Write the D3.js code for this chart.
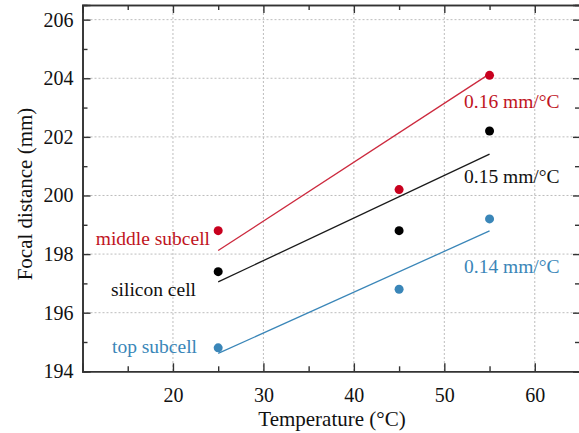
<!DOCTYPE html>
<html><head><meta charset="utf-8">
<script src="https://cdn.jsdelivr.net/npm/d3@7"></script>
<style>
html,body{margin:0;padding:0;background:#fff;}
svg{display:block;}
svg text{font-family:"Liberation Serif","Times New Roman",serif !important;}
</style></head>
<body><svg id="c" width="579" height="433"></svg>
<script>
// Data
const temps = [25, 45, 55];
const seriesNames = ["middle subcell", "silicon cell", "top subcell"];
const middleValues = [198.8, 200.2, 204.1];
const siliconValues = [197.4, 198.8, 202.2];
const topValues = [194.8, 196.8, 199.2];
const fitX = [25, 55];
const middleFit = [198.12, 204.15];
const siliconFit = [197.05, 201.41];
const topFit = [194.61, 198.79];
const slopeLabels = ["0.16 mm/°C", "0.15 mm/°C", "0.14 mm/°C"];
const xTicks = [20, 30, 40, 50, 60];
const xMinor = [15, 25, 35, 45, 55, 65];
const yTicks = [194, 196, 198, 200, 202, 204, 206];
const yMinor = [195, 197, 199, 201, 203, 205];

const colors = ["#c8001e", "#000000", "#3a86b8"];
const lineColors = ["#cc2a3e", "#1a1a1a", "#3a86b8"];

const svg = d3.select("#c");
const L = 82.5, R = 580, T = 5, B = 371.3;
const x = d3.scaleLinear().domain([10, 65]).range([L, R]);
const y = d3.scaleLinear().domain([194, 206.5]).range([B, T]);

// gridlines
const grid = svg.append("g").attr("stroke", "#bdbdbd").attr("stroke-width", 1).attr("stroke-dasharray", "2,2");
xTicks.forEach(v => grid.append("line").attr("x1", x(v)).attr("x2", x(v)).attr("y1", T).attr("y2", B));
yTicks.filter(v => v > 194).forEach(v => grid.append("line").attr("x1", L).attr("x2", R).attr("y1", y(v)).attr("y2", y(v)));

// axes
function styleAxis(g) {
  g.attr("font-family", "Liberation Serif").attr("font-size", 20);
  g.select(".domain").attr("stroke", "#333").attr("stroke-width", 1.6);
  g.selectAll(".tick line").attr("stroke", "#333").attr("stroke-width", 1.4);
  g.selectAll(".tick text").attr("fill", "#111");
}
const fmt = d3.format("d");
svg.append("g").attr("transform", `translate(0,${B})`)
  .call(d3.axisBottom(x).tickValues(xTicks).tickSize(-8).tickPadding(17).tickFormat(fmt)).call(styleAxis);
svg.append("g").attr("transform", `translate(0,${B})`)
  .call(d3.axisBottom(x).tickValues(xMinor).tickSize(-5).tickFormat("")).call(styleAxis);
svg.append("g").attr("transform", `translate(0,${T})`)
  .call(d3.axisTop(x).tickValues(xTicks).tickSize(-8).tickFormat("")).call(styleAxis);
svg.append("g").attr("transform", `translate(0,${T})`)
  .call(d3.axisTop(x).tickValues(xMinor).tickSize(-5).tickFormat("")).call(styleAxis);
svg.append("g").attr("transform", `translate(${L},0)`)
  .call(d3.axisLeft(y).tickValues(yTicks).tickSize(-8).tickPadding(9).tickFormat(fmt)).call(styleAxis);
svg.append("g").attr("transform", `translate(${L},0)`)
  .call(d3.axisLeft(y).tickValues(yMinor).tickSize(-5).tickFormat("")).call(styleAxis);
svg.append("g").attr("transform", `translate(${R},0)`)
  .call(d3.axisRight(y).tickValues(yTicks).tickSize(-7).tickFormat("")).call(styleAxis);
svg.append("g").attr("transform", `translate(${R},0)`)
  .call(d3.axisRight(y).tickValues(yMinor).tickSize(-5).tickFormat("")).call(styleAxis);

// axis titles
svg.append("text").attr("x", 332).attr("y", 426).attr("text-anchor", "middle")
  .attr("font-size", 21).attr("fill", "#111").text("Temperature (°C)");
svg.append("text").attr("transform", "translate(32,194) rotate(-90)").attr("text-anchor", "middle")
  .attr("font-size", 21).attr("fill", "#111").text("Focal distance (mm)");

// series
const allValues = [middleValues, siliconValues, topValues];
const allFits = [middleFit, siliconFit, topFit];
const line = d3.line().x(d => x(d[0])).y(d => y(d[1]));
allFits.forEach((f, i) => {
  svg.append("path").datum(fitX.map((t, j) => [t, f[j]]))
    .attr("d", line).attr("fill", "none").attr("stroke", lineColors[i]).attr("stroke-width", 1.3);
});
allValues.forEach((vals, i) => {
  svg.append("g").selectAll("circle").data(temps.map((t, j) => [t, vals[j]])).join("circle")
    .attr("cx", d => x(d[0])).attr("cy", d => y(d[1])).attr("r", 4.5).attr("fill", colors[i]);
});

// labels
const nameX = [210, 196, 197];
const nameY = [245, 296, 352.5];
const textColors = ["#c0141e", "#111111", "#3a86b8"];
seriesNames.forEach((n, i) => {
  svg.append("text").attr("x", nameX[i]).attr("y", nameY[i]).attr("text-anchor", "end")
    .attr("font-size", 19.5).attr("fill", textColors[i]).text(n);
});
const slopeY = [108, 183, 273];
slopeLabels.forEach((s, i) => {
  svg.append("text").attr("x", 464).attr("y", slopeY[i]).attr("text-anchor", "start")
    .attr("font-size", 19.5).attr("fill", textColors[i]).text(s);
});
</script></body></html>
